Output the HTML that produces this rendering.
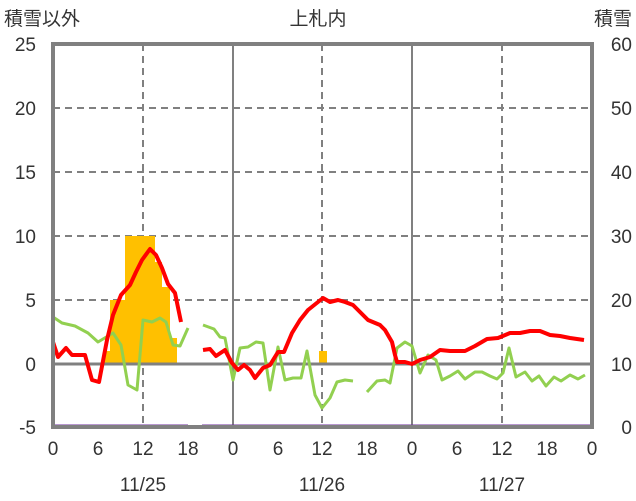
<!DOCTYPE html><html><head><meta charset="utf-8"><style>body{margin:0;background:#fff}svg{display:block}text{font-family:"Liberation Sans","Noto Sans CJK JP",sans-serif;fill:#333}</style></head><body>
<svg width="636" height="501" viewBox="0 0 636 501">
<g stroke="#808080" stroke-width="2" stroke-dasharray="7,5">
<line x1="53" y1="108" x2="592" y2="108"/><line x1="53" y1="172" x2="592" y2="172"/><line x1="53" y1="236" x2="592" y2="236"/><line x1="53" y1="300" x2="592" y2="300"/>
<line x1="143" y1="44" x2="143" y2="427"/><line x1="322" y1="44" x2="322" y2="427"/><line x1="502" y1="44" x2="502" y2="427"/>
</g>
<g stroke="#808080" stroke-width="2"><line x1="233" y1="44" x2="233" y2="427"/><line x1="412" y1="44" x2="412" y2="427"/></g>
<g fill="#FFC000">
<rect x="103" y="351" width="7" height="13"/><rect x="110" y="300" width="15" height="64"/><rect x="125" y="236" width="30" height="128"/><rect x="155" y="262" width="7" height="102"/><rect x="162" y="287" width="8" height="77"/><rect x="170" y="338" width="7" height="26"/><rect x="319" y="351" width="8" height="13"/>
</g>
<line x1="53" y1="364" x2="592" y2="364" stroke="#808080" stroke-width="3"/>
<g fill="none" stroke="#92D050" stroke-width="3" stroke-linejoin="round">
<polyline points="53,317 62,323 75,326 88,333 98,342 103,339 113,333 121,345 128,385 137,390 143,320 152,322 160,318 166,322 173,345 180,346 188,328"/>
<polyline points="203,325 214,329 220,337 225,338 233,380 240,348 248,347 256,342 263,343 270,390 278,347 285,380 293,378 301,378 307,351 315,395 322,408 330,398 337,382 345,380 353,381"/>
<polyline points="367,392 377,381 385,380 390,383 397,348 405,342 412,346 420,373 428,355 436,360 442,380 450,376 458,371 465,379 475,372 482,372 490,376 497,379 503,373 509,348 516,377 525,372 532,381 539,376 546,386 554,377 561,381 570,375 578,379 585,375"/>
</g>
<g fill="none" stroke="#FF0000" stroke-width="4" stroke-linejoin="round">
<polyline points="53,342 58,357 66,348 72,355 85,355 92,380 99,382 107,340 113,315 121,295 130,285 136,272 142,260 150,249 156,255 162,268 168,284 175,293 181,322"/>
<polyline points="203,350 210,349 216,356 225,350 232,363 238,370 244,365 250,370 255,378 263,368 270,365 278,352 284,352 292,333 300,320 308,310 318,302 323,298 330,302 338,300 345,302 353,305 358,310 368,320 380,325 385,330 392,342 395,355 397,362 405,362 412,364 420,360 430,357 440,350 450,351 465,351 475,346 487,339 498,338 510,333 520,333 530,331 540,331 550,335 560,336 570,338 584,340"/>
</g>
<line x1="53" y1="427" x2="592" y2="427" stroke="#808080" stroke-width="4"/>
<line x1="53" y1="426" x2="188" y2="426" stroke="#7030A0" stroke-width="3"/>
<line x1="202" y1="426" x2="590" y2="426" stroke="#7030A0" stroke-width="3"/>
<rect x="53" y="44" width="539" height="383" fill="none" stroke="#808080" stroke-width="4"/>
<g font-size="19" text-anchor="end">
<text x="36" y="51">25</text><text x="36" y="115">20</text><text x="36" y="179">15</text><text x="36" y="243">10</text><text x="36" y="307">5</text><text x="36" y="371">0</text><text x="36" y="434">-5</text>
</g>
<g font-size="19" text-anchor="end">
<text x="632" y="51">60</text><text x="632" y="115">50</text><text x="632" y="179">40</text><text x="632" y="243">30</text><text x="632" y="307">20</text><text x="632" y="371">10</text><text x="632" y="434">0</text>
</g>
<g font-size="19" text-anchor="middle">
<text x="53" y="455">0</text><text x="98" y="455">6</text><text x="143" y="455">12</text><text x="188" y="455">18</text><text x="233" y="455">0</text><text x="278" y="455">6</text><text x="322" y="455">12</text><text x="367" y="455">18</text><text x="412" y="455">0</text><text x="457" y="455">6</text><text x="502" y="455">12</text><text x="547" y="455">18</text><text x="592" y="455">0</text>
<text x="143" y="491">11/25</text><text x="322" y="491">11/26</text><text x="502" y="491">11/27</text>
<text x="318" y="25">上札内</text>
</g>
<text x="4" y="25" font-size="19">積雪以外</text>
<text x="632" y="25" font-size="19" text-anchor="end">積雪</text>
</svg></body></html>
